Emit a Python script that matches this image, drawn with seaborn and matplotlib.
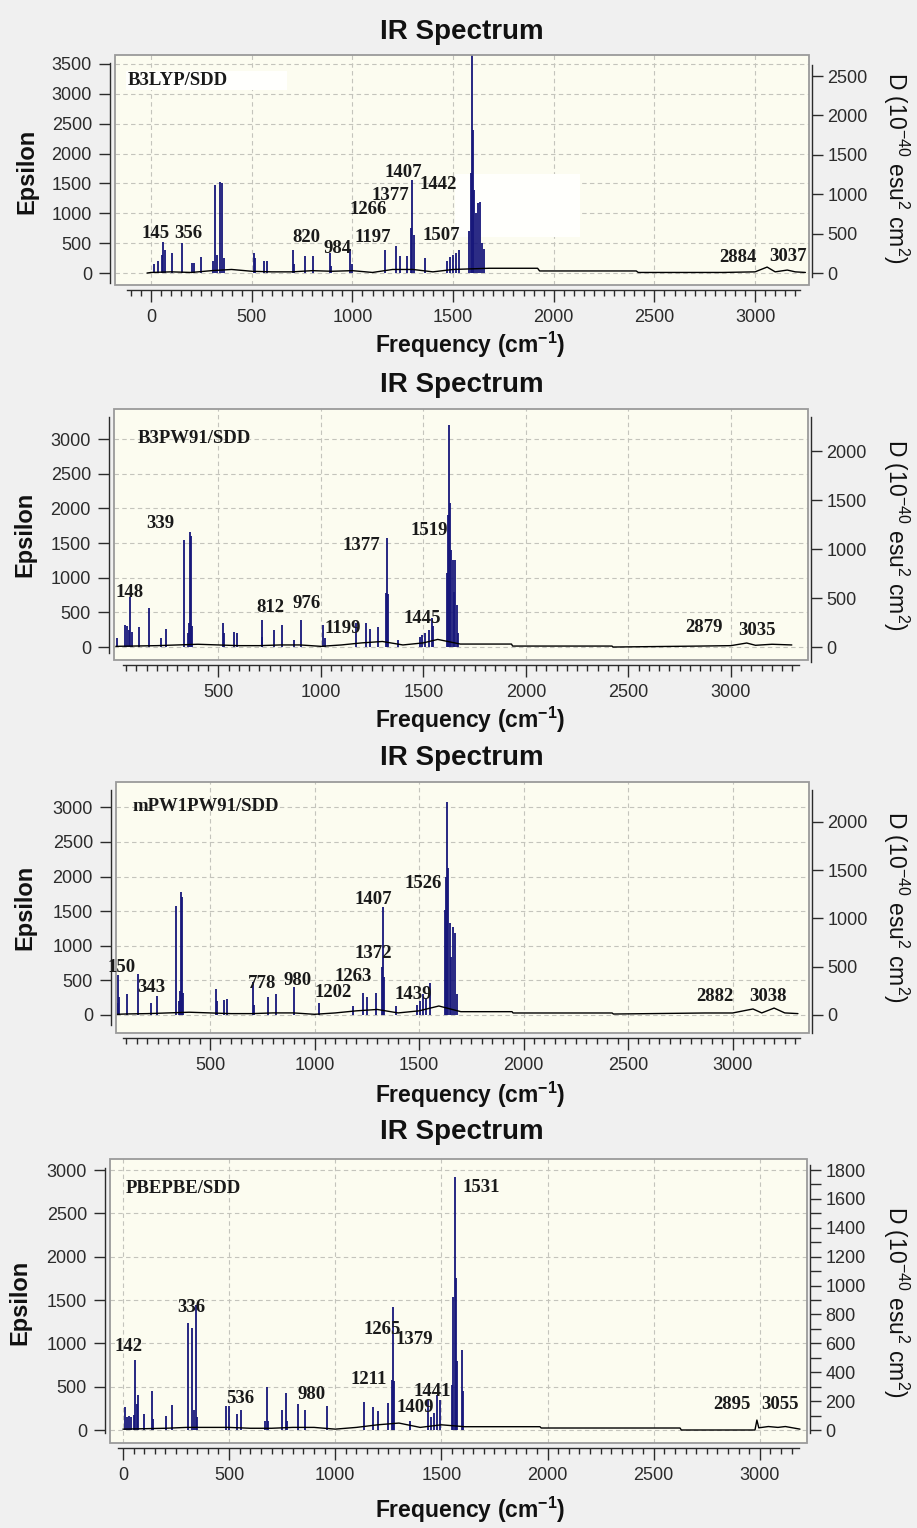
import matplotlib
matplotlib.use("Agg")
import matplotlib.pyplot as plt
import seaborn as sns
import numpy as np
import pandas as pd
from matplotlib.patches import Rectangle
from matplotlib.ticker import FixedLocator

# ---------------- DATA ----------------
methods = ["B3LYP/SDD", "B3PW91/SDD", "mPW1PW91/SDD", "PBEPBE/SDD"]

# Panel 1: B3LYP/SDD sticks (frequency cm-1, epsilon)
p1_freq = [15, 35, 55, 60, 70, 105, 155, 205, 215, 250, 310, 318, 330, 343, 351, 360,
           512, 517, 560, 575, 704, 712, 765, 803, 889, 895, 989, 1000, 1162, 1217, 1237,
           1270, 1290, 1296, 1304, 1361, 1470, 1485, 1500, 1515, 1530, 1580, 1590, 1596,
           1600, 1605, 1615, 1625, 1635, 1645, 1655]
p1_eps = [150, 200, 300, 520, 385, 330, 500, 165, 165, 270, 200, 1475, 300, 1525, 1500, 250,
          330, 250, 200, 200, 380, 150, 280, 280, 330, 120, 400, 150, 380, 450, 280,
          280, 760, 1555, 640, 250, 200, 270, 300, 330, 380, 700, 1675, 3700,
          2400, 1390, 1005, 1172, 1190, 500, 400]
p1_base_x = [-20, 0, 100, 200, 300, 400, 500, 600, 700, 800, 900, 1000, 1100, 1200, 1300,
             1400, 1500, 1680, 1920, 1930, 2410, 2420, 2840, 3000, 3060, 3100, 3160, 3200, 3250]
p1_base_y = [0, 10, 20, 10, 40, 60, 30, 20, 20, 40, 30, 40, 10, 60, 60,
             20, 60, 80, 80, 35, 35, 10, 10, 20, 100, 20, 50, 20, 10]
p1_labels = ["145", "356", "820", "984", "1197", "1266", "1377", "1407", "1442", "1507", "2884", "3037"]

# Panel 2: B3PW91/SDD
p2_freq = [7, 45, 55, 65, 70, 80, 114, 162, 221, 245, 333, 350, 358, 362, 366, 372, 524, 528,
           576, 590, 711, 715, 771, 808, 870, 901, 1011, 1020, 1171, 1219, 1240, 1279, 1318,
           1322, 1326, 1375, 1483, 1495, 1510, 1525, 1540, 1548, 1613, 1620, 1626, 1630,
           1636, 1643, 1650, 1655, 1662, 1669]
p2_eps = [130, 320, 300, 250, 720, 220, 290, 560, 130, 260, 1540, 200, 350, 1660, 1600, 300, 350, 200,
          210, 200, 390, 150, 250, 320, 100, 390, 320, 130, 340, 340, 260, 290, 780,
          1570, 760, 100, 150, 180, 200, 245, 420, 300, 1065, 1900, 3200, 2075,
          1400, 1255, 800, 1255, 600, 200]
p2_base_x = [0, 100, 200, 300, 400, 500, 600, 700, 800, 900, 1000, 1100, 1200, 1300, 1400,
             1500, 1570, 1680, 1930, 1935, 2420, 2425, 2850, 3000, 3077, 3120, 3200, 3297]
p2_base_y = [10, 15, 20, 30, 40, 30, 20, 20, 30, 30, 10, 30, 60, 80, 30,
             60, 110, 43, 43, 14, 14, 0, 14, 20, 58, 25, 40, 30]
p2_labels = ["148", "339", "812", "976", "1199", "1377", "1445", "1519", "2879", "3035"]

# Panel 3: mPW1PW91/SDD
p3_freq = [58, 60, 64, 104, 154, 217, 245, 336, 350, 358, 362, 366, 372, 529, 533, 567, 583,
           707, 712, 777, 816, 902, 1022, 1185, 1233, 1250, 1294, 1322, 1328, 1333, 1390,
           1490, 1505, 1520, 1535, 1552, 1626, 1630, 1635, 1640, 1648, 1655, 1661, 1672, 1682]
p3_eps = [173, 578, 260, 300, 590, 170, 280, 1570, 200, 350, 1775, 1700, 320, 380, 200, 210, 230,
          480, 150, 260, 300, 400, 170, 125, 320, 260, 320, 690, 1560, 545, 130,
          150, 200, 300, 250, 460, 1515, 2000, 3075, 2120, 1330, 840, 1270, 1180, 300]
p3_base_x = [55, 100, 200, 300, 400, 500, 600, 700, 800, 900, 1000, 1100, 1200, 1300, 1400,
             1500, 1595, 1700, 1945, 1950, 2424, 2430, 2868, 3000, 3098, 3140, 3199, 3250, 3313]
p3_base_y = [10, 15, 20, 30, 40, 30, 20, 20, 30, 30, 10, 30, 60, 80, 30,
             60, 130, 48, 48, 29, 29, 14, 29, 29, 87, 30, 100, 30, 20]
p3_labels = ["150", "343", "778", "980", "1202", "1263", "1372", "1407", "1439", "1526", "2882", "3038"]

# Panel 4: PBEPBE/SDD
p4_freq = [9, 20, 30, 40, 50, 57, 65, 71, 99, 135, 140, 202, 232, 305, 326, 335, 343, 350,
           485, 498, 536, 555, 670, 677, 685, 748, 768, 775, 826, 857, 960, 1137, 1179, 1200,
           1249, 1266, 1270, 1275, 1352, 1437, 1450, 1465, 1480, 1494, 1548, 1556, 1563,
           1568, 1575, 1596, 1603]
p4_eps = [265, 150, 160, 150, 170, 808, 300, 400, 180, 450, 130, 160, 290, 1235, 1175, 230, 1440, 150,
          280, 280, 180, 230, 100, 500, 100, 230, 430, 100, 300, 230, 280, 320, 265, 220,
          310, 577, 1420, 560, 100, 350, 150, 200, 400, 350, 520, 1540, 2920,
          1750, 800, 920, 450]
p4_base_x = [0, 100, 200, 300, 400, 500, 600, 700, 800, 900, 1000, 1100, 1200, 1300, 1400,
             1500, 1610, 1964, 1970, 2624, 2630, 2977, 2986, 2995, 3040, 3085, 3120, 3189]
p4_base_y = [10, 15, 20, 30, 30, 30, 20, 20, 30, 30, 10, 30, 60, 80, 30,
             60, 38, 38, 23, 23, 0, 0, 115, 25, 40, 30, 40, 10]
p4_labels = ["142", "336", "536", "980", "1211", "1265", "1379", "1409", "1441", "1531", "2895", "3055"]

sticks = [(p1_freq, p1_eps), (p2_freq, p2_eps), (p3_freq, p3_eps), (p4_freq, p4_eps)]
bases = [(p1_base_x, p1_base_y), (p2_base_x, p2_base_y), (p3_base_x, p3_base_y), (p4_base_x, p4_base_y)]
labels = [p1_labels, p2_labels, p3_labels, p4_labels]

# ---------------- LAYOUT ----------------
W, H = 917, 1528
layout = [
    dict(box=(115, 55, 809, 285), xlim=(-179, 3268), ylim=(-200, 3650), fac=0.758,
         xb=(-120, 3224), lb=(-167, 3517), rb=(-50, 2640), rmaj=np.arange(0, 2501, 500), rmin=None,
         method_xy=(-114, 3216),
         lab_xy=[(20, 670), (184, 670), (770, 603), (924, 419), (1103, 603), (1080, 1060),
                 (1190, 1290), (1252, 1675), (1426, 1474), (1441, 636), (2916, 268), (3164, 285)],
         title_y=32, xlab_y=345, ylab_x=27, ylab_y=171, rlab_y=168),
    dict(box=(114, 409, 808, 660), xlim=(-9, 3376), ylim=(-187, 3433), fac=0.7075,
         xb=(35, 3331), lb=(-87, 3317), rb=(-153, 2346), rmaj=np.arange(0, 2001, 500), rmin=None,
         method_xy=(108, 3014),
         lab_xy=[(69, 793), (215, 1788), (752, 577), (932, 634), (1108, 274), (1196, 1471),
                 (1493, 418), (1527, 1687), (2868, 288), (3126, 245)],
         title_y=385, xlab_y=720, ylab_x=25, ylab_y=534, rlab_y=535),
    dict(box=(116, 782, 809, 1033), xlim=(50, 3366), ylim=(-260, 3365), fac=0.7166,
         xb=(84, 3323), lb=(-144, 3249), rb=(-186, 2329), rmaj=np.arange(0, 2001, 500), rmin=None,
         method_xy=(127, 3004),
         lab_xy=[(79, 693), (218, 404), (749, 462), (921, 491), (1089, 318), (1184, 549),
                 (1280, 895), (1280, 1661), (1471, 289), (1519, 1906), (2916, 260), (3170, 274)],
         title_y=758, xlab_y=1095, ylab_x=25, ylab_y=907, rlab_y=907),
    dict(box=(110, 1159, 807, 1443), xlim=(-61, 3222), ylim=(-150, 3127), fac=0.600,
         xb=(-23, 3185), lb=(-35, 3023), rb=(-21, 1834), rmaj=np.arange(0, 1801, 200),
         rmin=np.arange(100, 1801, 200),
         method_xy=(14, 2781),
         lab_xy=[(24, 958), (320, 1408), (551, 358), (890, 404), (1159, 577), (1220, 1154),
                 (1371, 1050), (1378, 262), (1458, 440), (1686, 2793), (2868, 300), (3094, 300)],
         title_y=1132, xlab_y=1510, ylab_x=20, ylab_y=1302, rlab_y=1302),
]

sns.set_style("ticks")
plt.rcParams["font.family"] = ["Liberation Sans", "DejaVu Sans"]
plt.rcParams["mathtext.default"] = "regular"

fig = plt.figure(figsize=(W / 100, H / 100), dpi=100, facecolor="#f0f0f0")

STICK = "#16167a"
TXT = "#1a1a1a"
TICKC = "#2b2b2b"
serif = ["Liberation Serif", "DejaVu Serif"]

for i, L in enumerate(layout):
    x0, y0, x1, y1 = L["box"]
    ax = fig.add_axes([x0 / W, 1 - y1 / H, (x1 - x0) / W, (y1 - y0) / H])
    ax.set_facecolor("#fcfcf0")
    ax.set_xlim(*L["xlim"])
    ax.set_ylim(*L["ylim"])

    # ticks
    xb = L["xb"]
    xmaj = [t for t in range(0, 3501, 500) if xb[0] <= t <= xb[1]]
    xmin = [t for t in range(-500, 3501, 50) if xb[0] <= t <= xb[1] and t % 500 != 0]
    ax.xaxis.set_major_locator(FixedLocator(xmaj))
    ax.xaxis.set_minor_locator(FixedLocator(xmin))
    lb = L["lb"]
    ymaj = [t for t in range(0, 4001, 500) if lb[0] <= t <= lb[1]]
    ax.yaxis.set_major_locator(FixedLocator(ymaj))
    ax.yaxis.set_minor_locator(FixedLocator([]))

    ax.grid(True, which="major", linestyle=(0, (4, 3)), color="#c4c4bc", linewidth=0.8)
    ax.set_axisbelow(True)

    for s in ["top", "right"]:
        ax.spines[s].set_visible(False)
    ax.spines["left"].set_position(("outward", 3.6))
    ax.spines["bottom"].set_position(("outward", 3.6))
    ax.spines["left"].set_bounds(*lb)
    ax.spines["bottom"].set_bounds(*xb)
    for s in ["left", "bottom"]:
        ax.spines[s].set_color(TICKC)
        ax.spines[s].set_linewidth(1.0)
    ax.tick_params(axis="both", which="major", direction="out", length=8, width=1,
                   colors=TICKC, labelsize=13, pad=5)
    ax.tick_params(axis="x", which="minor", direction="out", length=4, width=1, colors=TICKC)
    ax.tick_params(axis="x", which="major", length=8.5)

    # box frame
    ax.add_patch(Rectangle((0, 0), 1, 1, transform=ax.transAxes, fill=False,
                           edgecolor="#9a9a9a", linewidth=1.3, clip_on=False, zorder=6))

    if i == 0:
        # whitish patches left by the original annotation boxes
        ax.add_patch(Rectangle((-125, 3060), 800, 330, facecolor="#fffffd", edgecolor="none", zorder=1.5))
        ax.add_patch(Rectangle((1510, 600), 620, 1050, facecolor="#fffffc", edgecolor="none", zorder=1.5))

    # data
    fq, ep = sticks[i]
    ax.vlines(fq, 0, ep, color=STICK, linewidth=1.3, zorder=3)
    bx, by = bases[i]
    df = pd.DataFrame({"freq": bx, "eps": by})
    sns.lineplot(data=df, x="freq", y="eps", ax=ax, color="black", linewidth=1.0,
                 estimator=None, sort=False, legend=False, zorder=4)
    ax.set_xlabel("")
    ax.set_ylabel("")

    # annotations
    mx, my = L["method_xy"]
    ax.text(mx, my, methods[i], fontfamily=serif, fontweight="bold", fontsize=13.5,
            ha="left", va="center", color=TXT, zorder=7)
    for lab, (lx, ly) in zip(labels[i], L["lab_xy"]):
        ax.text(lx, ly, lab, fontfamily=serif, fontweight="bold", fontsize=13.5,
                ha="center", va="center", color=TXT, zorder=7)

    # right axis
    ax2 = ax.twinx()
    f = L["fac"]
    ax2.set_ylim(L["ylim"][0] * f, L["ylim"][1] * f)
    ax2.grid(False)
    for s in ["top", "left", "bottom"]:
        ax2.spines[s].set_visible(False)
    ax2.spines["right"].set_position(("outward", 2.2))
    ax2.spines["right"].set_bounds(*L["rb"])
    ax2.spines["right"].set_color(TICKC)
    ax2.spines["right"].set_linewidth(1.0)
    ax2.yaxis.set_major_locator(FixedLocator(list(L["rmaj"])))
    if L["rmin"] is not None:
        ax2.yaxis.set_minor_locator(FixedLocator(list(L["rmin"])))
        ax2.tick_params(axis="y", which="minor", direction="out", length=8, width=1, colors=TICKC)
    ax2.tick_params(axis="y", which="major", direction="out", length=8, width=1,
                    colors=TICKC, labelsize=13, pad=3)

    # titles and axis labels
    fig.text(462 / W, 1 - L["title_y"] / H, "IR Spectrum", fontsize=20, fontweight="bold",
             ha="center", va="center", color="#111111")
    fig.text(470 / W, 1 - L["xlab_y"] / H, r"Frequency (cm$^{-1}$)", fontsize=16.5,
             fontweight="bold", ha="center", va="center", color="#111111")
    fig.text(L["ylab_x"] / W, 1 - L["ylab_y"] / H, "Epsilon", fontsize=17, fontweight="bold",
             rotation=90, ha="center", va="center", color="#111111")
    fig.text(896 / W, 1 - L["rlab_y"] / H, r"D (10$^{-40}$ esu$^{2}$ cm$^{2}$)", fontsize=16.5,
             rotation=270, ha="center", va="center", color="#111111")

fig.savefig("out.png", dpi=100, facecolor=fig.get_facecolor())
